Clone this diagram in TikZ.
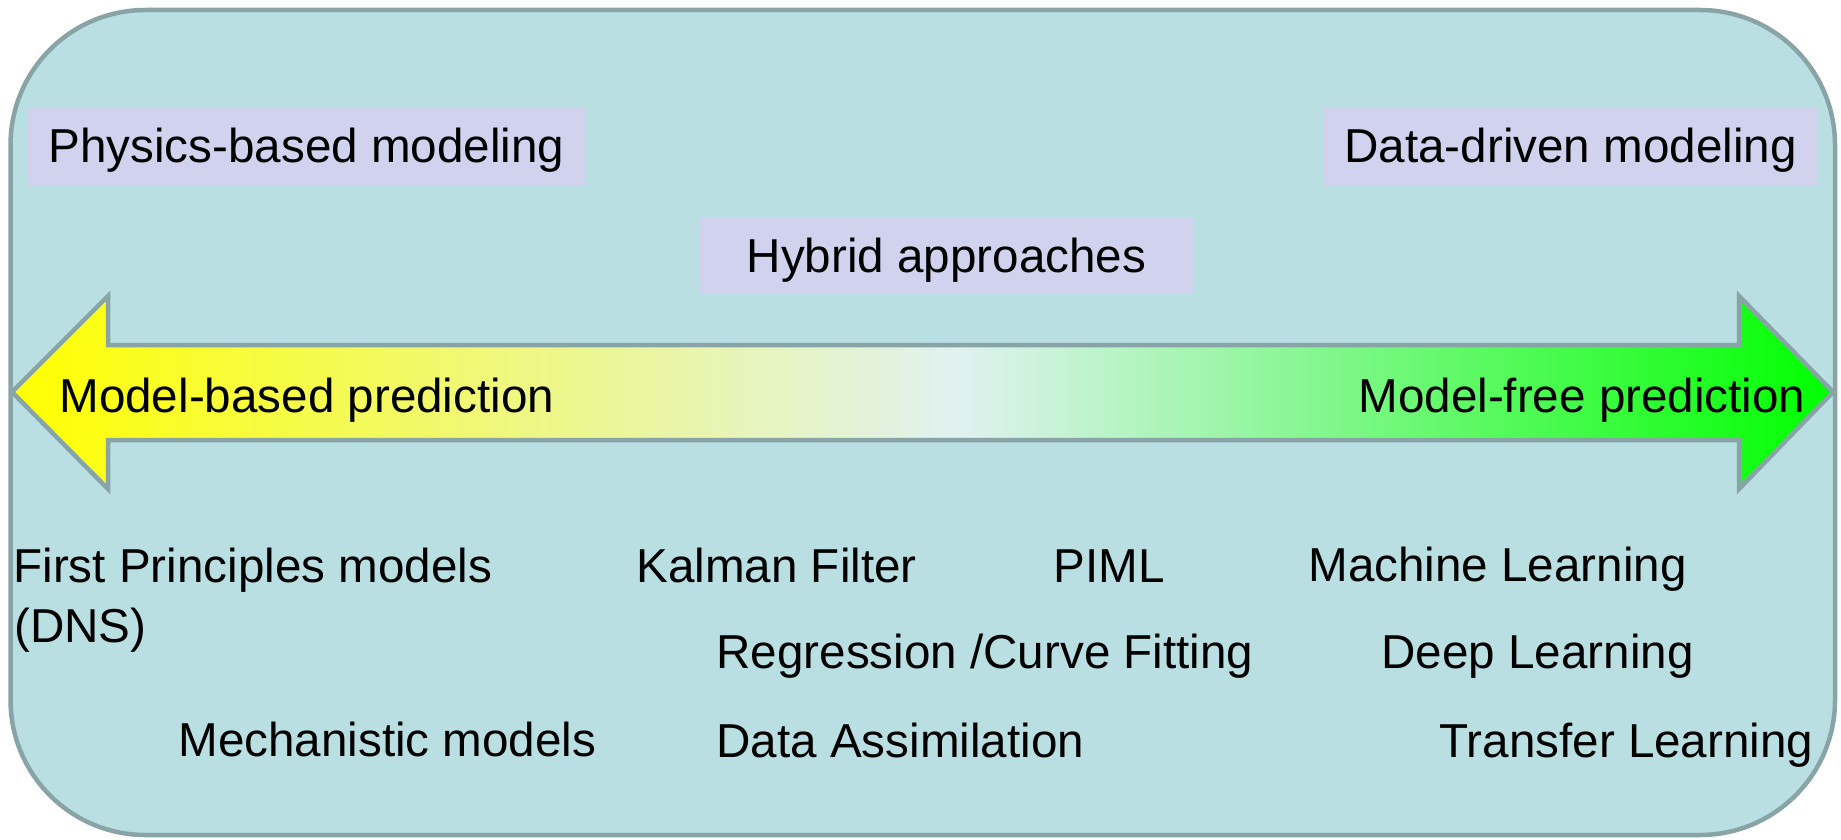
\documentclass[tikz,border=0pt]{standalone}
\usepackage{fontspec}
\setmainfont{Liberation Sans}

\definecolor{panelfill}{RGB}{185,223,226}
\definecolor{edge}{RGB}{137,164,166}
\definecolor{tagfill}{RGB}{209,210,238}
\definecolor{midtone}{RGB}{224,241,241}

% yellow -> pale -> green along the double arrow
% (the path's bounding box is mapped onto 25bp..75bp)
\pgfdeclarehorizontalshading{spectrum}{100bp}{%
  color(0bp)=(yellow); color(25bp)=(yellow); color(51bp)=(midtone);
  color(75bp)=(green); color(100bp)=(green)}

\begin{document}
\begin{tikzpicture}[x=0.5pt, y=-0.5pt,
  font=\fontsize{23.8}{28}\selectfont,
  item/.style={inner sep=0pt, anchor=base west},
  tag/.style={fill=tagfill, inner sep=0pt, text height=21.5pt,
    text depth=5pt, minimum height=38.5pt}]

\useasboundingbox (0,0) rectangle (1841,840);

% outer panel
\draw[fill=panelfill, draw=edge, line width=2.25pt, rounded corners=67.5pt]
  (10.5,10) rectangle (1835,835);

% headings
\node[tag, minimum width=278.5pt] (physics)    at (306.5,146)   {Physics-based modeling};
\node[tag, minimum width=247.5pt] (datadriven) at (1570.5,146)  {Data-driven modeling};
\node[tag, minimum width=247.5pt] (hybrid)     at (946.5,255.5) {Hybrid approaches};

% double-headed spectrum arrow
\path[shading=spectrum, shade, draw=edge, line width=2.25pt, line join=miter]
  (12,392) -- (108,296) -- (108,345) -- (1739,345) -- (1739,296)
  -- (1833,392) -- (1739,489) -- (1739,440) -- (108,440) -- (108,489) -- cycle;

\node[item] (modelbased) at (59,412)   {Model-based prediction};
\node[item] (modelfree)  at (1358,412) {Model-free prediction};

% methods along the spectrum
\node[item] (firstprinciples) at (13,582)   {First Principles models};
\node[item] (dns)             at (14,642)   {(DNS)};
\node[item] (mechanistic)     at (178,756)  {Mechanistic models};
\node[item] (kalman)          at (636,582)  {Kalman Filter};
\node[item] (piml)            at (1053,582) {PIML};
\node[item] (regression)      at (716,668)  {Regression /Curve Fitting};
\node[item] (assimilation)    at (716,757)  {Data Assimilation};
\node[item] (ml)              at (1308,581) {Machine Learning};
\node[item] (dl)              at (1381,668) {Deep Learning};
\node[item] (tl)              at (1439,757) {Transfer Learning};
\end{tikzpicture}
\end{document}
